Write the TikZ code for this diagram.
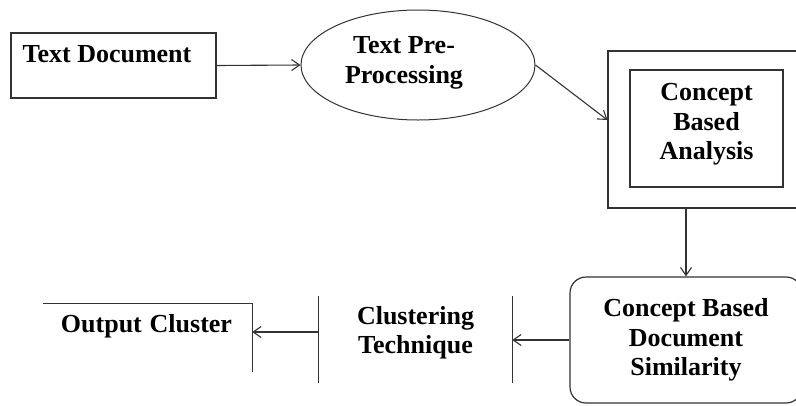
\documentclass[tikz,border=0pt]{standalone}
\usepackage{fontspec}
\setmainfont{Liberation Serif}
\definecolor{EdgeGray}{HTML}{333333}
\usetikzlibrary{positioning, arrows.meta, shapes.geometric, calc}

\begin{document}
\begin{tikzpicture}[x=1pt, y=-1pt,
    lbl/.style={font=\fontsize{26}{29.5}\selectfont\bfseries, align=center, inner sep=0pt},
    box/.style={draw=EdgeGray, line width=1.2pt, inner sep=0pt},
    arr/.style={-{Straight Barb[length=8pt, width=11pt]}, draw=EdgeGray, line width=1.1pt}]
  \clip (0,0) rectangle (796,405);
  \fill[white] (0,0) rectangle (796,405);

  % top row
  \node[box, minimum width=205pt, minimum height=65pt] (doc) at (113.5,65.5) {};
  \node[lbl, anchor=base west] (doctxt) at ([shift={(12pt,-30pt)}]doc.north west) {Text Document};
  \node[box, ellipse, minimum width=234pt, minimum height=110pt, line width=1pt] (pre) at (418,65) {};
  \node[lbl] (pretxt) at ([xshift=-14pt, yshift=2pt]pre.center) {Text Pre-\\Processing};
  \node[box, minimum width=197pt, minimum height=157pt] (outer) at (706.5,129.5) {};
  \node[box, minimum width=153pt, minimum height=117pt] (inner) at (706.5,128.5) {};
  \node[lbl] (innertxt) at ([yshift=4pt]inner.center) {Concept\\Based\\Analysis};

  % bottom row
  \node[box, lbl, rounded corners=16pt, minimum width=232pt, minimum height=126pt] (sim) at (686,340)
    {Concept Based\\Document\\Similarity};
  \node[minimum width=193pt, minimum height=87pt, inner sep=0pt] (clus) at (415.5,339.5) {};
  \draw[box] (clus.north west) -- (clus.south west);
  \draw[box] (clus.north east) -- (clus.south east);
  \node[lbl] (clustxt) at ([yshift=7pt]clus.center) {Clustering\\Technique};
  \node[minimum width=209pt, minimum height=68pt, inner sep=0pt] (out) at (147.5,338) {};
  \draw[box] (out.north west) -- (out.north east) -- (out.south east);
  \node[lbl] (outtxt) at ([xshift=-1pt, yshift=12pt]out.center) {Output\hspace{0.3em}Cluster};

  % connectors
  \draw[arr] (doc.east) -- (pre.west);
  \draw[arr] (pre.east) -- ([yshift=9.5pt]outer.west);
  \draw[arr] (outer.south -| sim.north) -- (sim.north);
  \draw[arr] (sim.west) -- (sim.west -| clus.east);
  \draw[arr] ([yshift=7.5pt]clus.west) -- ([yshift=7.5pt]clus.west -| out.east);
\end{tikzpicture}
\end{document}
